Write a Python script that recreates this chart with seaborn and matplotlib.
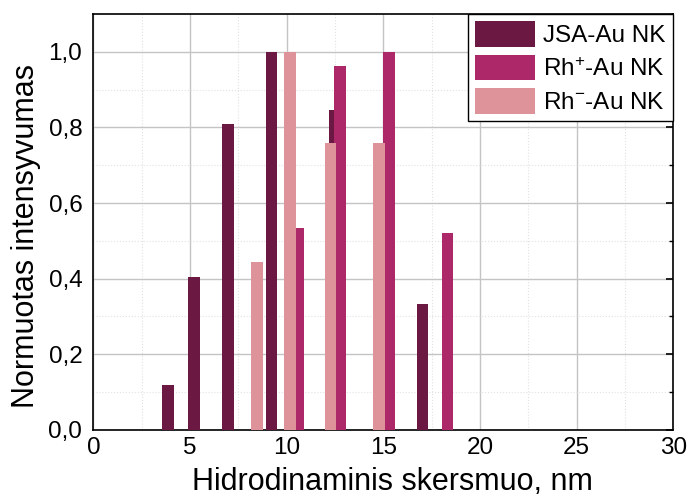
import numpy as np
import pandas as pd
import matplotlib
matplotlib.use("Agg")
import matplotlib.pyplot as plt
from matplotlib.patches import Patch
from matplotlib.ticker import MultipleLocator, FuncFormatter
import seaborn as sns

# hydrodynamic diameter (nm) and normalised intensity for each sample
jsa_size = [3.87, 5.21, 6.95, 9.22, 12.5, 17.03]
jsa_int = [0.118, 0.404, 0.810, 1.0, 0.846, 0.332]

rhp_size = [10.62, 12.76, 15.29, 18.32]
rhp_int = [0.535, 0.962, 1.0, 0.520]

rhm_size = [8.46, 10.17, 12.26, 14.79]
rhm_int = [0.444, 1.0, 0.759, 0.759]

labels = ["JSA-Au NK", "Rh$^{+}$-Au NK", "Rh$^{-}$-Au NK"]
colors = ["#6b1842", "#ad2868", "#de929a"]

df = pd.concat([
    pd.DataFrame({"size": jsa_size, "intensity": jsa_int, "sample": labels[0]}),
    pd.DataFrame({"size": rhp_size, "intensity": rhp_int, "sample": labels[1]}),
    pd.DataFrame({"size": rhm_size, "intensity": rhm_int, "sample": labels[2]}),
], ignore_index=True)

sns.set_style("white")
plt.rcParams["font.family"] = ["Liberation Sans", "DejaVu Sans"]
plt.rcParams["mathtext.fontset"] = "custom"
plt.rcParams["mathtext.rm"] = "Liberation Sans"
plt.rcParams["mathtext.it"] = "Liberation Sans"
plt.rcParams["text.color"] = "black"
plt.rcParams["axes.labelcolor"] = "black"

fig = plt.figure(figsize=(6.89, 4.97), dpi=100)
ax = fig.add_axes([0.1356, 0.135, 0.977 - 0.1356, 0.972 - 0.135])

bar_w = 0.6
for name, c in zip(labels, colors):
    sub = df[df["sample"] == name]
    # seaborn scales width by the smallest gap between x values on a native scale
    gap = np.min(np.diff(np.sort(sub["size"].unique())))
    sns.barplot(data=sub, x="size", y="intensity", native_scale=True,
                color=c, saturation=1, width=bar_w / gap, linewidth=0,
                errorbar=None, ax=ax, zorder=3)

ax.set_xlim(0, 30)
ax.set_ylim(0, 1.1)
ax.xaxis.set_major_locator(MultipleLocator(5))
ax.xaxis.set_minor_locator(MultipleLocator(2.5))
ax.yaxis.set_major_locator(MultipleLocator(0.2))
ax.yaxis.set_minor_locator(MultipleLocator(0.1))
ax.xaxis.set_major_formatter(FuncFormatter(lambda v, p: f"{v:.0f}"))
ax.yaxis.set_major_formatter(FuncFormatter(lambda v, p: f"{v:.1f}".replace(".", ",")))

ax.grid(which="major", color="#c4c4c4", linewidth=1.0, zorder=0)
ax.grid(which="minor", color="#e2e2e2", linewidth=0.8, linestyle=":", zorder=0)
ax.set_axisbelow(True)

ax.tick_params(which="both", direction="in", right=True, top=False,
               labelsize=17.5, colors="black")
ax.tick_params(which="major", length=5, width=1.2)
ax.tick_params(which="minor", length=3, width=1.0)
ax.tick_params(axis="x", pad=5)
ax.tick_params(axis="y", pad=8)
for s in ax.spines.values():
    s.set_color("black")
    s.set_linewidth(1.2)

ax.set_xlabel("Hidrodinaminis skersmuo, nm", fontsize=22, color="black")
ax.set_ylabel("Normuotas intensyvumas", fontsize=22, color="black")
ax.xaxis.set_label_coords(0.515, -0.09)
ax.yaxis.set_label_coords(-0.09, 0.465)

handles = [Patch(facecolor=c, edgecolor="none", label=l) for l, c in zip(labels, colors)]
leg = ax.legend(handles=handles, loc="upper right", fontsize=17.5, frameon=True,
                fancybox=False, edgecolor="black", framealpha=1,
                borderaxespad=0, borderpad=0.3, handlelength=2.45, handleheight=1.25,
                handletextpad=0.35, labelspacing=0.3)
leg.get_frame().set_linewidth(1.0)
for t in leg.get_texts():
    t.set_color("black")

fig.savefig("out.png", dpi=100)
